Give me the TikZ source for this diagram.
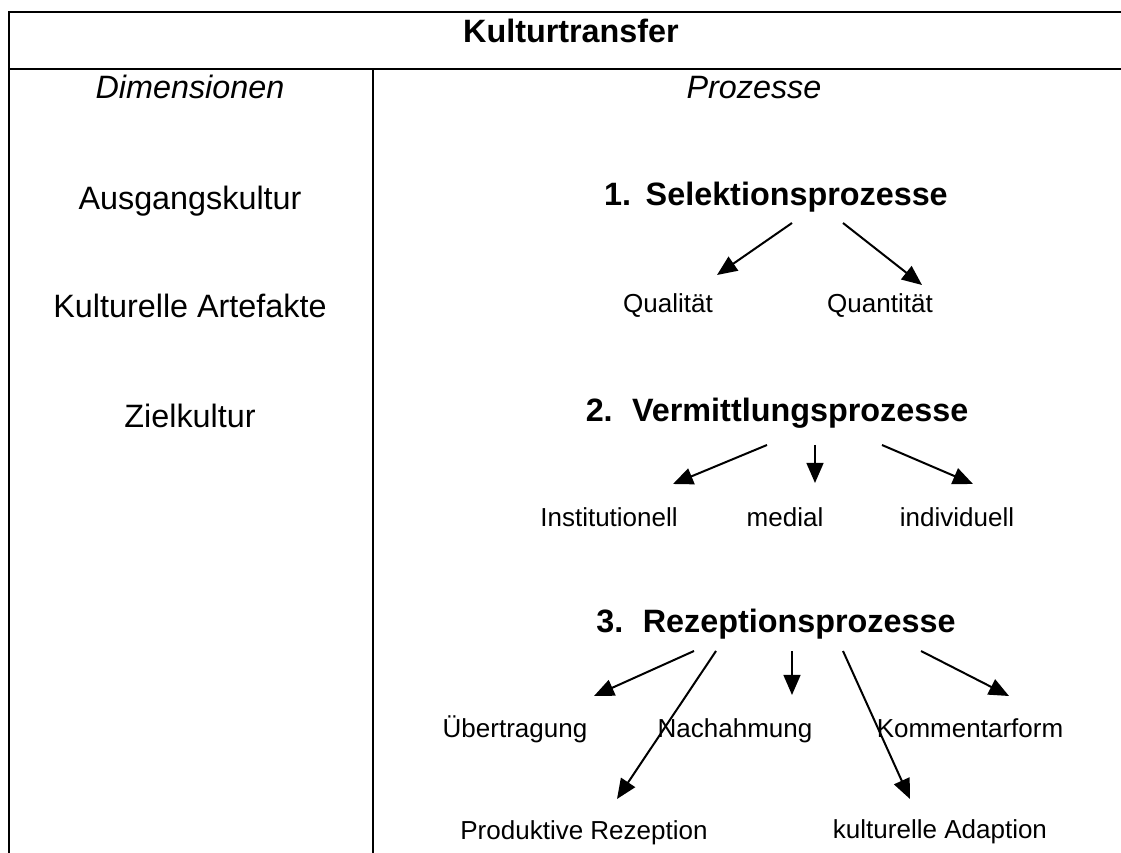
\documentclass[tikz,border=0pt]{standalone}
\usepackage{fontspec}
\setmainfont{Liberation Sans}
\usetikzlibrary{arrows.meta,calc}

\begin{document}
\begin{tikzpicture}[x=0.025cm,y=-0.025cm,
  every node/.style={anchor=base,inner sep=0pt},
  titel/.style={font=\fontsize{23}{27}\selectfont\bfseries},
  spalte/.style={font=\fontsize{23}{27}\selectfont\itshape},
  dimension/.style={font=\fontsize{23}{27}\selectfont},
  prozess/.style={font=\fontsize{23}{27}\selectfont\bfseries},
  teil/.style={font=\fontsize{18.5}{22}\selectfont},
  tabelle/.style={line width=0.065cm},
  pfeil/.style={-{Triangle[length=0.5cm,width=0.42cm]},line width=0.05cm}
]

\useasboundingbox (0,0) rectangle (1121,853);

% table lines
\draw[tabelle] (9,853) -- (9,12) -- (1121,12);
\draw[tabelle] (9,69) -- (1121,69);
\draw[tabelle] (373,69) -- (373,853);

% head
\node[titel] (titel) at (571,43) {Kulturtransfer};
\node[spalte] (dim) at (190,99) {Dimensionen};
\node[spalte] (proz) at (754,99) {Prozesse};

% dimensions
\node[dimension] (ausgang) at (190,210) {Ausgangskultur};
\node[dimension] (artefakt) at (190,318) {Kulturelle Artefakte};
\node[dimension] (ziel) at (190,428) {Zielkultur};

% 1.
\node[prozess] (sel) at (776,206) {1.\hspace{0.45em}Selektionsprozesse};
\node[teil] (qual) at (668,313) {Qualität};
\node[teil] (quant) at (880,313) {Quantität};

% 2.
\node[prozess] (verm) at (777,422) {2.\hspace{0.6em}Vermittlungsprozesse};
\node[teil] (inst) at (609,527) {Institutionell};
\node[teil] (medial) at (785,527) {medial};
\node[teil] (indiv) at (957,527) {individuell};

% 3.
\node[prozess] (rez) at (776,633) {3.\hspace{0.6em}Rezeptionsprozesse};
\node[teil] (uebertr) at (515,737) {Übertragung};
\node[teil] (nachahm) at (735,737) {Nachahmung};
\node[teil] (komm) at (970,737) {Kommentarform};
\node[teil] (produkt) at (584,839) {Produktive Rezeption};
\node[teil] (adapt) at (940,838) {kulturelle Adaption};

% arrows
\draw[pfeil] ($(sel.base)+(16,17)$) -- ($(qual.base)+(49,-38)$);
\draw[pfeil] ($(sel.base)+(67,17)$) -- ($(quant.base)+(42,-28)$);

\draw[pfeil] ($(verm.base)+(-10,23)$) -- ($(inst.base)+(64,-43)$);
\draw[pfeil] ($(verm.base)+(38,23)$) -- ($(medial.base)+(30,-44)$);
\draw[pfeil] ($(verm.base)+(105,23)$) -- ($(indiv.base)+(16,-43)$);

\draw[pfeil] ($(rez.base)+(-82,18)$) -- ($(uebertr.base)+(79,-41)$);
\draw[pfeil] ($(rez.base)+(-60,18)$) -- ($(produkt.base)+(33,-40)$);
\draw[pfeil] ($(rez.base)+(16,18)$) -- ($(nachahm.base)+(57,-42)$);
\draw[pfeil] ($(rez.base)+(67,18)$) -- ($(adapt.base)+(-30,-39)$);
\draw[pfeil] ($(rez.base)+(145,18)$) -- ($(komm.base)+(39,-41)$);

\end{tikzpicture}
\end{document}
